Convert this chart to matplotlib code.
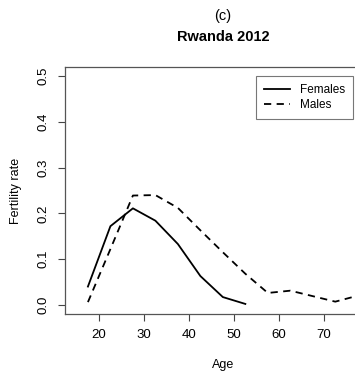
import matplotlib.pyplot as plt

plt.rcParams['font.family'] = ['Liberation Sans', 'DejaVu Sans']

ages_f = [17.5, 22.5, 27.5, 32.5, 37.5, 42.5, 47.5, 52.5]
rate_f = [0.040, 0.172, 0.211, 0.184, 0.133, 0.063, 0.017, 0.002]

ages_m = [17.5, 22.5, 27.5, 32.5, 37.5, 42.5, 47.5, 52.5, 57.5, 62.5, 67.5, 72.5, 77.5]
rate_m = [0.006, 0.122, 0.239, 0.240, 0.212, 0.163, 0.115, 0.068, 0.026, 0.031, 0.019, 0.007, 0.020]

xticks = [20, 30, 40, 50, 60, 70]
yticks = [0.0, 0.1, 0.2, 0.3, 0.4, 0.5]

W, H = 355, 376
fig = plt.figure(figsize=(W / 100, H / 100), dpi=100)
# axes box runs past the right edge of the picture, as in the original crop
x0, x1, y0, y1 = 65, 380.7, 67, 314
ax = fig.add_axes([x0 / W, 1 - y1 / H, (x1 - x0) / W, (y1 - y0) / H])

ax.plot(ages_f, rate_f, color='black', lw=1.3, label='Females')
ax.plot(ages_m, rate_m, color='black', lw=1.3, ls=(0, (4, 3)), label='Males')

ax.set_xlim(12.4, 82.6)
ax.set_ylim(-0.02, 0.52)
ax.set_xticks(xticks)
ax.set_yticks(yticks)
ax.set_yticklabels([f'{v:.1f}' for v in yticks], rotation=90, va='center')
ax.tick_params(direction='out', length=5, width=0.8, color='#444444',
               labelsize=9.5, pad=6)
for s in ax.spines.values():
    s.set_color('#555555')
    s.set_linewidth(0.9)

ax.set_xlabel('Age', fontsize=9, labelpad=13)
ax.set_ylabel('Fertility rate', fontsize=9, labelpad=11)

fig.text((x0 + x1) / 2 / W, 1 - 16 / H, '(c)', ha='center', va='center', fontsize=10.5)
fig.text((x0 + x1) / 2 / W, 1 - 37 / H, 'Rwanda 2012', ha='center', va='center',
         fontsize=10.5, fontweight='bold')

leg = ax.legend(loc='upper left', bbox_to_anchor=((256 - x0) / (x1 - x0), 1 - (76 - y0) / (y1 - y0)),
                fontsize=8.5, frameon=True, fancybox=False, edgecolor='#555555',
                handlelength=2.2, borderpad=0.7, labelspacing=0.25, handletextpad=0.8,
                borderaxespad=0)
leg.get_frame().set_linewidth(0.8)

fig.savefig('out.png', dpi=100)
